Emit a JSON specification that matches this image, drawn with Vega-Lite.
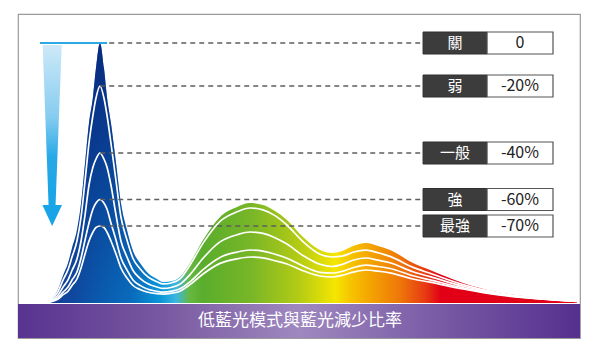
{
  "$schema": "https://vega.github.io/schema/vega-lite/v6.json",
  "width": 562,
  "height": 324,
  "autosize": {"type": "none"},
  "padding": {"left": 18, "top": 14, "right": 20, "bottom": 18},
  "background": "white",
  "config": {"view": {"stroke": "#9a9a9a", "strokeWidth": 1.2}, "text": {"font": "Noto Sans CJK TC"}},
  "datasets": {
    "curves": [
      {"nm": 388, "off": 0.5, "weak": 0.4, "normal": 0.3, "strong": 0.2, "strongest": 0.15},
      {"nm": 393, "off": 3, "weak": 2.5, "normal": 1.7, "strong": 1.2, "strongest": 0.9},
      {"nm": 399, "off": 13, "weak": 10.9, "normal": 7.5, "strong": 5.2, "strongest": 3.8},
      {"nm": 403, "off": 28, "weak": 23.4, "normal": 16.2, "strong": 11.1, "strongest": 8.3},
      {"nm": 406.5, "off": 40, "weak": 33.4, "normal": 23.1, "strong": 15.9, "strongest": 11.8},
      {"nm": 409.4, "off": 55, "weak": 45.9, "normal": 32.5, "strong": 23, "strongest": 17.5},
      {"nm": 413, "off": 73, "weak": 62, "normal": 44, "strong": 31, "strongest": 24},
      {"nm": 416, "off": 100, "weak": 86, "normal": 62, "strong": 45, "strongest": 35},
      {"nm": 418.9, "off": 140, "weak": 122, "normal": 88, "strong": 63, "strongest": 49},
      {"nm": 421.8, "off": 180, "weak": 160, "normal": 118, "strong": 80, "strongest": 62},
      {"nm": 424.7, "off": 206, "weak": 188, "normal": 136, "strong": 94, "strongest": 71},
      {"nm": 426.9, "off": 235, "weak": 205, "normal": 144, "strong": 100, "strongest": 75.5},
      {"nm": 429.8, "off": 260, "weak": 217, "normal": 150, "strong": 103.5, "strongest": 77},
      {"nm": 432.7, "off": 235, "weak": 205, "normal": 144, "strong": 100, "strongest": 75.5},
      {"nm": 434.9, "off": 206, "weak": 188, "normal": 136, "strong": 94, "strongest": 71},
      {"nm": 437.8, "off": 180, "weak": 160, "normal": 118, "strong": 80, "strongest": 62},
      {"nm": 441.5, "off": 140, "weak": 122, "normal": 88, "strong": 63, "strongest": 49},
      {"nm": 445.1, "off": 100, "weak": 86, "normal": 62, "strong": 45, "strongest": 35},
      {"nm": 449.5, "off": 73, "weak": 63, "normal": 46, "strong": 33, "strongest": 25},
      {"nm": 453.9, "off": 52, "weak": 44.5, "normal": 32.5, "strong": 23, "strongest": 17.5},
      {"nm": 459, "off": 40, "weak": 34.3, "normal": 24.7, "strong": 17.6, "strongest": 13.5},
      {"nm": 464.8, "off": 30, "weak": 26.1, "normal": 19.2, "strong": 13.7, "strongest": 10.7},
      {"nm": 471.4, "off": 24, "weak": 21.3, "normal": 16, "strong": 11.7, "strongest": 9.3},
      {"nm": 475.8, "off": 21, "weak": 19.1, "normal": 14.6, "strong": 10.8, "strongest": 8.9},
      {"nm": 482.3, "off": 22, "weak": 20.3, "normal": 15.8, "strong": 11.8, "strongest": 9.8},
      {"nm": 488.2, "off": 26, "weak": 24.1, "normal": 18.9, "strong": 14.2, "strongest": 11.8},
      {"nm": 495.5, "off": 40, "weak": 38, "normal": 28.4, "strong": 21.2, "strongest": 18.4},
      {"nm": 505, "off": 63, "weak": 59.9, "normal": 44.7, "strong": 33.4, "strongest": 29},
      {"nm": 517.4, "off": 86, "weak": 81.7, "normal": 61.1, "strong": 45.6, "strongest": 39.6},
      {"nm": 529.8, "off": 96, "weak": 91.2, "normal": 68.2, "strong": 50.9, "strongest": 44.2},
      {"nm": 539.3, "off": 100, "weak": 95, "normal": 71, "strong": 53, "strongest": 46},
      {"nm": 548.7, "off": 98, "weak": 93.1, "normal": 69.6, "strong": 51.9, "strongest": 45.1},
      {"nm": 557.5, "off": 92, "weak": 87.4, "normal": 65.3, "strong": 48.8, "strongest": 42.3},
      {"nm": 566.2, "off": 83, "weak": 78, "normal": 58.9, "strong": 44.8, "strongest": 39},
      {"nm": 577.9, "off": 66, "weak": 61.4, "normal": 47.5, "strong": 37, "strongest": 32.3},
      {"nm": 590.3, "off": 53, "weak": 48.8, "normal": 38.7, "strong": 30.7, "strongest": 27},
      {"nm": 599.1, "off": 50, "weak": 46, "normal": 36.5, "strong": 30, "strongest": 26},
      {"nm": 606.4, "off": 52, "weak": 46.8, "normal": 38.5, "strong": 31.7, "strongest": 27.6},
      {"nm": 614.4, "off": 57, "weak": 50.7, "normal": 42.8, "strong": 35.3, "strongest": 30.8},
      {"nm": 623.9, "off": 60, "weak": 52.8, "normal": 45, "strong": 37.8, "strongest": 33},
      {"nm": 632.6, "off": 57, "weak": 50.2, "normal": 42.8, "strong": 36.5, "strongest": 31.9},
      {"nm": 641.4, "off": 53, "weak": 46.6, "normal": 40.3, "strong": 34.5, "strongest": 30.2},
      {"nm": 658.2, "off": 40, "weak": 35.6, "normal": 31.2, "strong": 27.2, "strongest": 24},
      {"nm": 670.6, "off": 33, "weak": 29.7, "normal": 26.4, "strong": 23.1, "strongest": 20.8},
      {"nm": 694.6, "off": 20, "weak": 18.4, "normal": 16.8, "strong": 15.2, "strongest": 14},
      {"nm": 719.4, "off": 11, "weak": 10.3, "normal": 9.6, "strong": 8.8, "strongest": 8.3},
      {"nm": 743.5, "off": 6, "weak": 5.7, "normal": 5.4, "strong": 5.1, "strongest": 4.8},
      {"nm": 777.8, "off": 2, "weak": 1.9, "normal": 1.8, "strong": 1.7, "strongest": 1.6}
    ],
    "levels": [
      {"level": "關", "pct": "0", "peak": 260},
      {"level": "弱", "pct": "-20%", "peak": 217},
      {"level": "一般", "pct": "-40%", "peak": 150},
      {"level": "強", "pct": "-60%", "peak": 103.5},
      {"level": "最強", "pct": "-70%", "peak": 77}
    ],
    "shaft": [
      {"h": 258, "l": 388.0, "r": 401.9},
      {"h": 98, "l": 392.3, "r": 397.4}
    ],
    "head": [
      {"h": 98, "l": 387.8, "r": 402.1},
      {"h": 77, "l": 394.9, "r": 394.9}
    ]
  },
  "layer": [
    {
      "data": {"values": [{}]},
      "mark": {"type": "rect", "fill": {"gradient": "linear", "x1": 0, "y1": 0, "x2": 1, "y2": 0, "stops": [
        {"offset": 0, "color": "#583391"}, {"offset": 0.25, "color": "#77579f"}, {"offset": 0.5, "color": "#9f88bf"}, {"offset": 0.75, "color": "#785aa5"}, {"offset": 1, "color": "#55308e"}]}},
      "encoding": {
        "x": {"datum": 370, "type": "quantitative", "scale": {"domain": [370, 780]}, "axis": null},
        "x2": {"datum": 780},
        "y": {"datum": -35, "type": "quantitative", "scale": {"domain": [-35, 289]}, "axis": null},
        "y2": {"datum": -1}
      }
    },
    {
      "data": {"values": [{"title": "低藍光模式與藍光減少比率"}]},
      "mark": {"type": "text", "color": "white", "fontSize": 17, "baseline": "middle", "align": "center"},
      "encoding": {
        "x": {"datum": 575.7, "type": "quantitative", "scale": {"domain": [370, 780]}, "axis": null},
        "y": {"datum": -17.5, "type": "quantitative", "scale": {"domain": [-35, 289]}, "axis": null},
        "text": {"field": "title"}
      }
    },
    {
      "data": {"name": "curves"},
      "mark": {"type": "area", "interpolate": "monotone", "fill": {"gradient": "linear", "x1": 0, "y1": 0, "x2": 1, "y2": 0, "stops": [
        {"offset": 0, "color": "#173c92"}, {"offset": 0.06, "color": "#0f4aa0"}, {"offset": 0.11, "color": "#0a5cb0"},
        {"offset": 0.165, "color": "#0a6cbd"}, {"offset": 0.22, "color": "#0a96d8"}, {"offset": 0.25, "color": "#3cb6e0"},
        {"offset": 0.275, "color": "#66b840"}, {"offset": 0.3, "color": "#5aad2c"}, {"offset": 0.39, "color": "#78b628"},
        {"offset": 0.48, "color": "#b4cb14"}, {"offset": 0.548, "color": "#f5e600"}, {"offset": 0.576, "color": "#f6c400"},
        {"offset": 0.613, "color": "#f4a400"}, {"offset": 0.67, "color": "#ee760a"}, {"offset": 0.716, "color": "#e73a12"},
        {"offset": 0.745, "color": "#e20016"}, {"offset": 1, "color": "#df0019"}]}},
      "encoding": {
        "x": {"field": "nm", "type": "quantitative", "scale": {"domain": [370, 780]}, "axis": null},
        "y": {"field": "off", "type": "quantitative", "scale": {"domain": [-35, 289]}, "axis": null},
        "y2": {"datum": 0}
      }
    },
    {
      "data": {"name": "curves"},
      "transform": [{"filter": "datum.nm <= 466"}],
      "mark": {"type": "area", "interpolate": "monotone", "fill": {"gradient": "linear", "x1": 0, "y1": 0, "x2": 0, "y2": 1, "stops": [
        {"offset": 0, "color": "rgba(8,34,118,0.85)"}, {"offset": 0.5, "color": "rgba(8,34,118,0.45)"}, {"offset": 1, "color": "rgba(8,34,118,0)"}]}},
      "encoding": {
        "x": {"field": "nm", "type": "quantitative", "scale": {"domain": [370, 780]}, "axis": null},
        "y": {"field": "off", "type": "quantitative", "scale": {"domain": [-35, 289]}, "axis": null},
        "y2": {"datum": 0}
      }
    },
    {
      "data": {"name": "curves"},
      "transform": [{"fold": ["weak", "normal", "strong", "strongest"], "as": ["level", "v"]}],
      "mark": {"type": "line", "interpolate": "monotone", "color": "white", "strokeWidth": 1.7},
      "encoding": {
        "x": {"field": "nm", "type": "quantitative", "scale": {"domain": [370, 780]}, "axis": null},
        "y": {"field": "v", "type": "quantitative", "scale": {"domain": [-35, 289]}, "axis": null},
        "detail": {"field": "level"}
      }
    },
    {
      "data": {"name": "levels"},
      "mark": {"type": "rule", "color": "#5e5e5e", "strokeWidth": 1.3, "strokeDash": [5, 4]},
      "encoding": {
        "x": {"datum": 430, "type": "quantitative", "scale": {"domain": [370, 780]}, "axis": null},
        "x2": {"datum": 665.5},
        "y": {"field": "peak", "type": "quantitative", "scale": {"domain": [-35, 289]}, "axis": null}
      }
    },
    {
      "data": {"values": [{}]},
      "mark": {"type": "rule", "color": "#2aa9e2", "strokeWidth": 2},
      "encoding": {
        "x": {"datum": 386, "type": "quantitative", "scale": {"domain": [370, 780]}, "axis": null},
        "x2": {"datum": 435},
        "y": {"datum": 260, "type": "quantitative", "scale": {"domain": [-35, 289]}, "axis": null}
      }
    },
    {
      "data": {"name": "shaft"},
      "mark": {"type": "area", "orient": "horizontal", "fill": {"gradient": "linear", "x1": 0, "y1": 0, "x2": 0, "y2": 1, "stops": [
        {"offset": 0, "color": "#cde9f8"}, {"offset": 0.45, "color": "#86ccf0"}, {"offset": 0.7, "color": "#27a9e6"}, {"offset": 1, "color": "#18a4e6"}]}},
      "encoding": {
        "y": {"field": "h", "type": "quantitative", "scale": {"domain": [-35, 289]}, "axis": null},
        "x": {"field": "l", "type": "quantitative", "scale": {"domain": [370, 780]}, "axis": null},
        "x2": {"field": "r"}
      }
    },
    {
      "data": {"name": "head"},
      "mark": {"type": "area", "orient": "horizontal", "fill": "#18a4e6"},
      "encoding": {
        "y": {"field": "h", "type": "quantitative", "scale": {"domain": [-35, 289]}, "axis": null},
        "x": {"field": "l", "type": "quantitative", "scale": {"domain": [370, 780]}, "axis": null},
        "x2": {"field": "r"}
      }
    },
    {
      "data": {"name": "levels"},
      "mark": {"type": "rect", "height": 22, "fill": "#3c3c3c", "stroke": "#2e2e2e", "strokeWidth": 1},
      "encoding": {
        "x": {"datum": 665.5, "type": "quantitative", "scale": {"domain": [370, 780]}, "axis": null},
        "x2": {"datum": 712.2},
        "y": {"field": "peak", "type": "quantitative", "scale": {"domain": [-35, 289]}, "axis": null}
      }
    },
    {
      "data": {"name": "levels"},
      "mark": {"type": "rect", "height": 22, "fill": "white", "stroke": "#555555", "strokeWidth": 1.2},
      "encoding": {
        "x": {"datum": 712.2, "type": "quantitative", "scale": {"domain": [370, 780]}, "axis": null},
        "x2": {"datum": 760.3},
        "y": {"field": "peak", "type": "quantitative", "scale": {"domain": [-35, 289]}, "axis": null}
      }
    },
    {
      "data": {"name": "levels"},
      "mark": {"type": "text", "color": "white", "fontSize": 15, "baseline": "middle", "align": "center"},
      "encoding": {
        "x": {"datum": 688.8, "type": "quantitative", "scale": {"domain": [370, 780]}, "axis": null},
        "y": {"field": "peak", "type": "quantitative", "scale": {"domain": [-35, 289]}, "axis": null},
        "text": {"field": "level"}
      }
    },
    {
      "data": {"name": "levels"},
      "mark": {"type": "text", "color": "#222222", "fontSize": 16, "baseline": "middle", "align": "center"},
      "encoding": {
        "x": {"datum": 736.2, "type": "quantitative", "scale": {"domain": [370, 780]}, "axis": null},
        "y": {"field": "peak", "type": "quantitative", "scale": {"domain": [-35, 289]}, "axis": null},
        "text": {"field": "pct"}
      }
    }
  ]
}
